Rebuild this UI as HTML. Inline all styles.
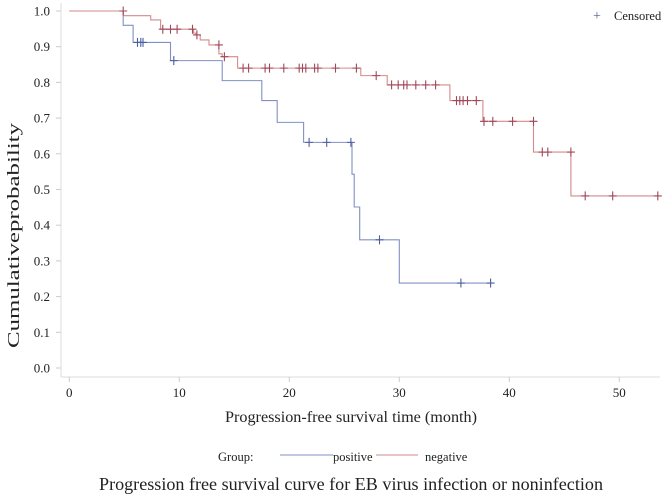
<!DOCTYPE html>
<html><head><meta charset="utf-8"><style>
body{margin:0;background:#fff;}
svg{display:block;font-family:"Liberation Serif",serif;}
</style></head><body>
<svg width="669" height="496" viewBox="0 0 669 496">
<g id="axes"></g><g id="plot"></g>
<text x="597" y="20" font-size="14" fill="#4a5a9a" text-anchor="middle">+</text>
<text x="614" y="20" font-size="12.5" fill="#222">Censored</text>
<text x="225" y="422" font-size="16" fill="#222" textLength="252" lengthAdjust="spacingAndGlyphs">Progression-free survival time (month)</text>
<text transform="translate(19,348) rotate(-90)" font-size="17" fill="#222" textLength="225" lengthAdjust="spacingAndGlyphs">Cumulativeprobability</text>
<text x="218" y="461" font-size="12.5" fill="#222">Group:</text>
<line x1="280" y1="455" x2="333" y2="455" stroke="#7f8fc4" stroke-width="1"/>
<text x="333" y="461" font-size="12.5" fill="#222">positive</text>
<line x1="376" y1="455" x2="418" y2="455" stroke="#d08a8a" stroke-width="1"/>
<text x="425" y="461" font-size="12.5" fill="#222">negative</text>
<text x="99" y="490" font-size="18" fill="#222" textLength="504" lengthAdjust="spacingAndGlyphs">Progression free survival curve for EB virus infection or noninfection</text>
</svg>
<script>
const xTicks=[0,10,20,30,40,50];
const yTicks=[0,0.1,0.2,0.3,0.4,0.5,0.6,0.7,0.8,0.9,1.0];
const negTimes=[0,4.9,7.4,8.3,11.3,11.5,11.9,12.7,13.6,13.9,15.3,26.5,28.9,34.6,37.6,42.2,45.6,53.5];
const negSurv=[1,0.987,0.975,0.949,0.938,0.933,0.919,0.905,0.88,0.872,0.84,0.819,0.793,0.749,0.691,0.605,0.482,0.482];
const negCensor=[4.9,8.5,9.2,9.8,11.2,11.6,13.6,14.1,15.8,16.3,17.8,18.2,19.5,20.9,21.2,21.5,22.3,22.6,24.2,26.1,27.9,29.3,29.9,30.4,30.7,31.5,32.4,33.3,35.2,35.5,35.8,36.2,37.0,37.7,38.5,40.3,42.2,43.0,43.5,45.6,46.9,49.4,53.5];
const posTimes=[0,4.9,5.8,9.2,13.9,17.5,18.9,21.3,25.7,25.9,26.4,30.0,38.3];
const posSurv=[1,0.96,0.912,0.861,0.805,0.749,0.688,0.632,0.543,0.451,0.359,0.238,0.238];
const posCensor=[6.2,6.5,6.7,9.5,21.8,23.4,25.6,28.2,35.6,38.3];
const NS='http://www.w3.org/2000/svg';
const X=t=>69.3+t*11.0, Y=p=>368-p*357;
function mk(tag,attrs,parent){const e=document.createElementNS(NS,tag);for(const k in attrs)e.setAttribute(k,attrs[k]);parent.appendChild(e);return e;}
const ax=document.getElementById('axes'), pl=document.getElementById('plot');
let e=mk('line',{x1:61,y1:3,x2:61,y2:377,stroke:'#ddd'},ax);


e=mk('line',{x1:61,y1:377,x2:660,y2:377,stroke:'#ddd'},ax);


yTicks.forEach(v=>{const y=Y(v);mk('line',{x1:56,y1:y,x2:61,y2:y,stroke:'#ccc'},ax);
 const t=mk('text',{x:50,y:y+4.5,'font-size':13,'text-anchor':'end',fill:'#222'},ax);t.textContent=v.toFixed(1);
 
 });
xTicks.forEach(v=>{const x=X(v);mk('line',{x1:x,y1:377,x2:x,y2:382,stroke:'#ccc'},ax);
 const t=mk('text',{x:x,y:397,'font-size':13,'text-anchor':'middle',fill:'#222'},ax);t.textContent=v;
 
 });
function stepPath(ts,ss){let d='M'+X(ts[0])+','+Y(ss[0]);for(let i=1;i<ts.length;i++){d+=' H'+X(ts[i])+' V'+Y(ss[i]);}return d;}
function survAt(ts,ss,t){let s=ss[0];for(let i=0;i<ts.length;i++){if(ts[i]<t)s=ss[i];}return s;}
function draw(ts,ss,cs,lc,mc,name){
 const p=mk('path',{d:stepPath(ts,ss),fill:'none',stroke:lc,'stroke-width':1.1},pl);
 
 
 cs.forEach(t=>{const x=X(t),y=Y(survAt(ts,ss,t));
  const g=mk('path',{d:`M${x-4},${y} H${x+4} M${x},${y-4.5} V${y+4.5}`,stroke:mc,'stroke-width':1.1},pl);
  
  });
}
draw(posTimes,posSurv,posCensor,'#8090c4','#4a5fa0','positive');
draw(negTimes,negSurv,negCensor,'#d58a8a','#a04858','negative');
</script>
</body></html>
